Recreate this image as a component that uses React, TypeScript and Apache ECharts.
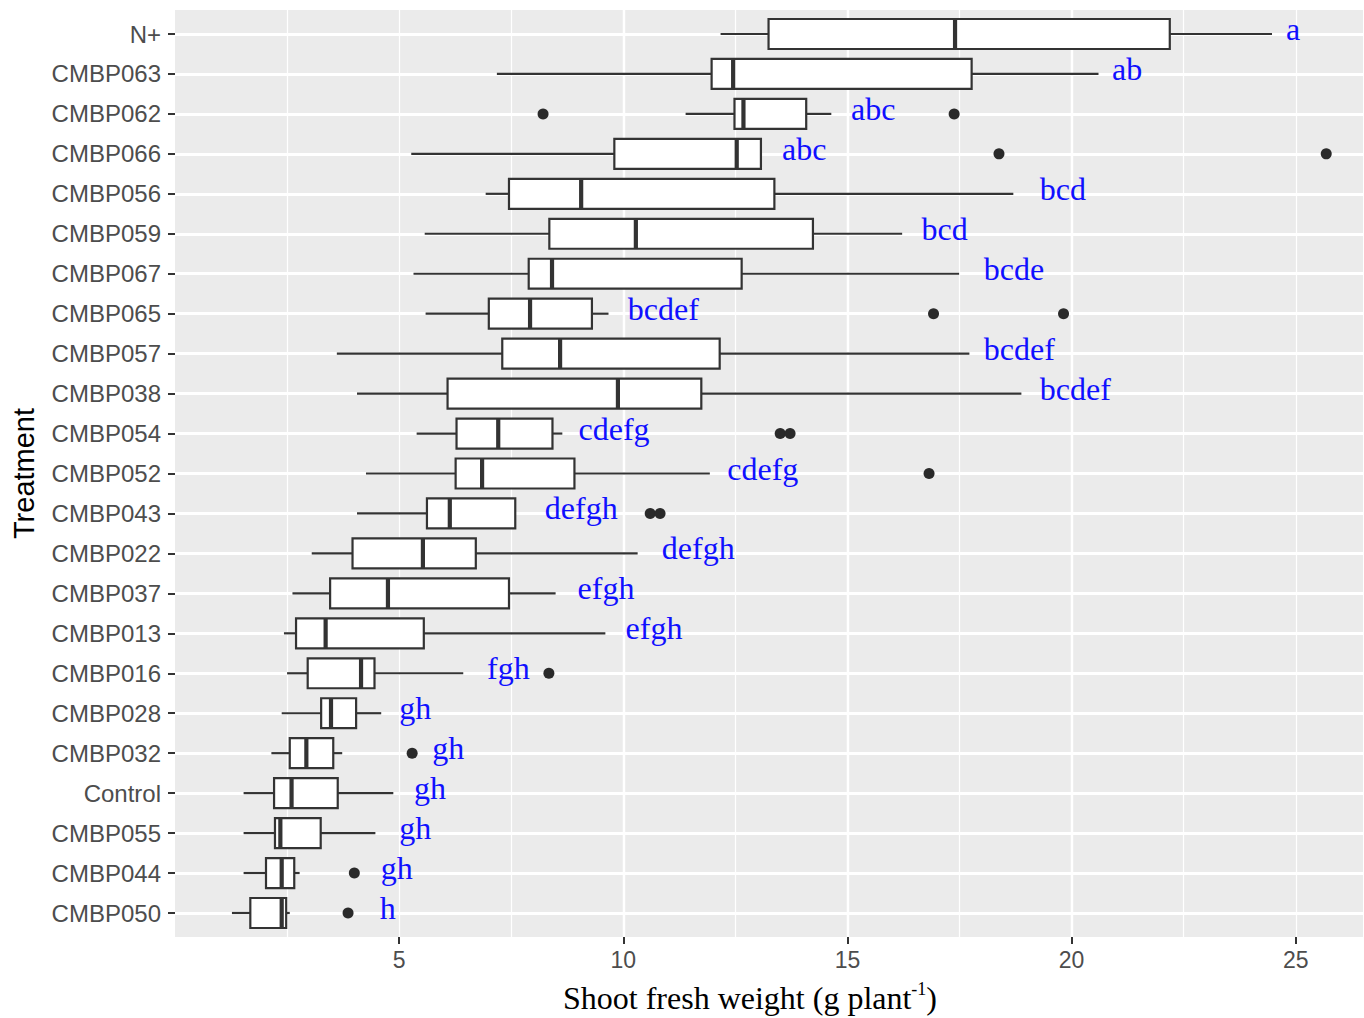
import React, { useEffect, useRef } from "react";
import * as echarts from "echarts";

// Treatments, top to bottom
const treatments = [
  "N+", "CMBP063", "CMBP062", "CMBP066", "CMBP056", "CMBP059", "CMBP067", "CMBP065",
  "CMBP057", "CMBP038", "CMBP054", "CMBP052", "CMBP043", "CMBP022", "CMBP037", "CMBP013",
  "CMBP016", "CMBP028", "CMBP032", "Control", "CMBP055", "CMBP044", "CMBP050",
];

// Five-number summaries of shoot fresh weight (g plant^-1)
const lowerWhisker = [12.17, 7.18, 11.39, 5.27, 6.93, 5.57, 5.32, 5.59, 3.61, 4.06, 5.39, 4.26, 4.06, 3.05, 2.62, 2.43, 2.5, 2.38, 2.15, 1.53, 1.53, 1.53, 1.27];
const q1 = [13.24, 11.97, 12.48, 9.8, 7.45, 8.35, 7.89, 7.0, 7.3, 6.08, 6.28, 6.26, 5.62, 3.96, 3.46, 2.7, 2.96, 3.26, 2.56, 2.21, 2.23, 2.03, 1.68];
const median = [17.4, 12.45, 12.68, 12.53, 9.06, 10.28, 8.41, 7.92, 8.59, 9.88, 7.21, 6.85, 6.13, 5.53, 4.75, 3.36, 4.15, 3.48, 2.93, 2.6, 2.35, 2.38, 2.38];
const q3 = [22.19, 17.77, 14.08, 13.07, 13.37, 14.23, 12.64, 9.3, 12.15, 11.74, 8.42, 8.91, 7.59, 6.71, 7.45, 5.55, 4.45, 4.04, 3.53, 3.63, 3.25, 2.66, 2.48];
const upperWhisker = [24.47, 20.6, 14.64, 13.07, 18.7, 16.22, 17.49, 9.67, 17.72, 18.88, 8.64, 11.93, 7.59, 10.32, 8.49, 9.6, 6.43, 4.6, 3.73, 4.87, 4.47, 2.78, 2.56];

// Outlying observations
const outlierTreatment = ["CMBP062", "CMBP062", "CMBP066", "CMBP066", "CMBP065", "CMBP065", "CMBP054", "CMBP054", "CMBP052", "CMBP043", "CMBP043", "CMBP016", "CMBP032", "CMBP044", "CMBP050"];
const outlierValue = [8.21, 17.38, 18.38, 25.68, 16.92, 19.82, 13.5, 13.72, 16.82, 10.6, 10.82, 8.34, 5.29, 4.0, 3.86];

// Mean separation letters and the x value where each one starts
const groupLetters = ["a", "ab", "abc", "abc", "bcd", "bcd", "bcde", "bcdef", "bcdef", "bcdef", "cdefg", "cdefg", "defgh", "defgh", "efgh", "efgh", "fgh", "gh", "gh", "gh", "gh", "gh", "h"];
const letterX = [24.78, 20.9, 15.08, 13.54, 19.29, 16.65, 18.04, 10.1, 18.04, 19.29, 9.0, 12.32, 8.25, 10.86, 8.98, 10.05, 6.96, 5.0, 5.74, 5.33, 5.0, 4.59, 4.57];

// Axis
const xMax = 26.5;
const xTicks = [5, 10, 15, 20, 25];

const INK = "#333333";
const AXIS_TEXT = "#4D4D4D";

export default function App() {
  const ref = useRef<HTMLDivElement>(null);

  useEffect(() => {
    if (!ref.current) return;
    const chart = echarts.init(ref.current, undefined, { renderer: "svg" });

    const boxData = treatments.map((_, i) => [i, lowerWhisker[i], q1[i], median[i], q3[i], upperWhisker[i]]);
    const outlierData = outlierTreatment.map((t, k) => [outlierValue[k], treatments.indexOf(t)]);
    const letterData = groupLetters.map((_, i) => [letterX[i], i]);

    const option: any = {
      animation: false,
      backgroundColor: "#ffffff",
      grid: [
        { left: 175, width: 1188, top: 10, height: 927, show: true, backgroundColor: "#EBEBEB", borderWidth: 0, z: 0 },
        { left: 175, width: 1188, top: 34, height: 879, z: 0 },
      ],
      xAxis: [
        {
          gridIndex: 0,
          type: "value",
          min: 0,
          max: xMax,
          interval: 2.5,
          z: 1,
          axisLine: { show: false },
          axisTick: { show: false },
          axisLabel: { show: false },
          splitLine: { show: true, showMinLine: false, showMaxLine: false, lineStyle: { color: "#ffffff", width: 1.2 } },
        },
        {
          gridIndex: 0,
          type: "value",
          position: "bottom",
          min: 0,
          max: xMax,
          interval: 5,
          z: 2,
          axisLine: { show: false },
          axisTick: { show: true, length: 7, customValues: xTicks, lineStyle: { color: INK, width: 2 } },
          axisLabel: {
            customValues: xTicks,
            color: AXIS_TEXT,
            fontSize: 23,
            fontFamily: "Liberation Sans",
            margin: 11,
          },
          splitLine: { show: true, showMinLine: false, showMaxLine: false, lineStyle: { color: "#ffffff", width: 2.4 } },
        },
        { gridIndex: 1, type: "value", min: 0, max: xMax, show: false },
      ],
      yAxis: [
        { gridIndex: 0, type: "value", min: 0, max: 1, show: false },
        {
          gridIndex: 1,
          type: "category",
          data: treatments,
          inverse: true,
          boundaryGap: false,
          z: 2,
          axisLine: { show: false },
          axisTick: { show: true, interval: 0, length: 7, lineStyle: { color: INK, width: 2 } },
          axisLabel: {
            interval: 0,
            color: AXIS_TEXT,
            fontSize: 24,
            fontFamily: "Liberation Sans",
            margin: 14,
          },
          splitLine: { show: true, interval: 0, lineStyle: { color: "#ffffff", width: 2.8 } },
          name: "Treatment",
          nameLocation: "middle",
          nameRotate: 90,
          nameGap: 137,
          nameTextStyle: { color: "#000000", fontSize: 29, fontFamily: "Liberation Sans" },
        },
      ],
      series: [
        {
          type: "custom",
          xAxisIndex: 2,
          yAxisIndex: 1,
          z: 3,
          encode: { x: [1, 2, 3, 4, 5], y: 0 },
          data: boxData,
          renderItem: (params: any, api: any) => {
            const idx = api.value(0);
            const band = Math.abs(api.coord([0, 1])[1] - api.coord([0, 0])[1]);
            const half = band * 0.375;
            const pLo = api.coord([api.value(1), idx]);
            const pQ1 = api.coord([api.value(2), idx]);
            const pMed = api.coord([api.value(3), idx]);
            const pQ3 = api.coord([api.value(4), idx]);
            const pHi = api.coord([api.value(5), idx]);
            const cy = pQ1[1];
            const line = { stroke: INK, lineWidth: 2.2 };
            return {
              type: "group",
              children: [
                { type: "line", shape: { x1: pLo[0], y1: cy, x2: pQ1[0], y2: cy }, style: line },
                { type: "line", shape: { x1: pQ3[0], y1: cy, x2: pHi[0], y2: cy }, style: line },
                {
                  type: "rect",
                  shape: { x: pQ1[0], y: cy - half, width: pQ3[0] - pQ1[0], height: half * 2 },
                  style: { fill: "#ffffff", stroke: INK, lineWidth: 2.2 },
                },
                { type: "line", shape: { x1: pMed[0], y1: cy - half, x2: pMed[0], y2: cy + half }, style: { stroke: INK, lineWidth: 4.2 } },
              ],
            };
          },
        },
        {
          type: "scatter",
          xAxisIndex: 2,
          yAxisIndex: 1,
          z: 4,
          symbol: "circle",
          symbolSize: 11,
          itemStyle: { color: "#2a2a2a", opacity: 1 },
          data: outlierData,
        },
        {
          type: "custom",
          xAxisIndex: 2,
          yAxisIndex: 1,
          z: 5,
          encode: { x: 0, y: 1 },
          data: letterData,
          renderItem: (params: any, api: any) => {
            const p = api.coord([api.value(0), api.value(1)]);
            return {
              type: "text",
              x: p[0],
              y: p[1] - 5,
              style: {
                text: groupLetters[params.dataIndex],
                fill: "#1010FF",
                fontSize: 32,
                fontFamily: "Liberation Serif",
                align: "left",
                verticalAlign: "middle",
              },
            };
          },
        },
      ],
      graphic: [
        {
          type: "text",
          x: 750,
          y: 998,
          style: {
            text: "{n|Shoot fresh weight (g plant}{s|-1}{n|)}",
            align: "center",
            verticalAlign: "middle",
            rich: {
              n: { fontSize: 32, fontFamily: "Liberation Serif", fill: "#000000", color: "#000000", lineHeight: 36 },
              s: { fontSize: 18, fontFamily: "Liberation Serif", fill: "#000000", color: "#000000", lineHeight: 18, verticalAlign: "top" },
            },
          },
        },
      ],
    };

    chart.setOption(option);
    return () => chart.dispose();
  }, []);

  return (
    <div
      ref={ref}
      style={{ position: "absolute", left: 0, top: 0, width: 1364, height: 1018 }}
    />
  );
}
